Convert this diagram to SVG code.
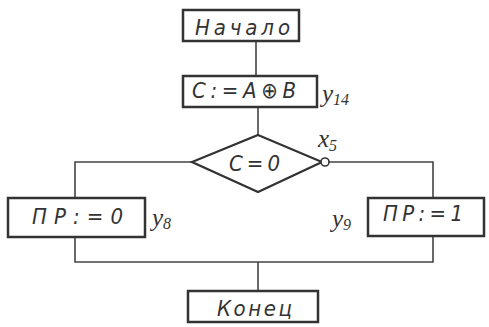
<svg xmlns="http://www.w3.org/2000/svg" width="489" height="327" viewBox="0 0 489 327">
<style>
.box{fill:#fff;stroke:#333;stroke-width:2.5}
.ln{fill:none;stroke:#444;stroke-width:1.6}
.t{font-family:"DejaVu Sans Condensed","DejaVu Sans","Liberation Sans",sans-serif;font-style:italic;font-size:22px;fill:#333}
.lab{font-family:"Liberation Serif","DejaVu Serif",serif;font-style:italic;font-size:25px;fill:#333}
.sub{font-size:16px}
</style>
<rect width="489" height="327" fill="#fff"/>
<g id="connectors">
<line class="ln" x1="256" y1="41" x2="256" y2="76"/>
<line class="ln" x1="258" y1="107" x2="258" y2="135"/>
<polyline class="ln" points="192,162 75,162 75,198"/>
<polyline class="ln" points="329,162 433,162 433,198"/>
<polyline class="ln" points="75,237 75,262 433,262 433,236"/>
<line class="ln" x1="258" y1="262" x2="258" y2="291"/>
</g>
<g id="start">
<rect class="box" x="183" y="10" width="116" height="31"/>
<text class="t" x="195" y="35" textLength="95" lengthAdjust="spacing">Начало</text>
</g>
<g id="assign">
<rect class="box" x="183" y="76" width="134" height="31"/>
<text class="t" x="192" y="98" textLength="104" lengthAdjust="spacing">C:=A⊕B</text>
<text class="lab" x="322" y="102">y<tspan class="sub" dy="3">14</tspan></text>
</g>
<g id="decision">
<polygon class="box" points="258,135 322,162 258,192 192,162" style="stroke-width:2.2"/>
<circle cx="325" cy="162" r="4" fill="#fff" stroke="#333" stroke-width="1.6"/>
<text class="t" x="229" y="171" textLength="51" lengthAdjust="spacing">C=0</text>
<text class="lab" x="318" y="147">x<tspan class="sub" dy="4">5</tspan></text>
</g>
<g id="pr0">
<rect class="box" x="8" y="198" width="137" height="39"/>
<text class="t" x="32" y="224" textLength="91" lengthAdjust="spacing">ПР:=0</text>
<text class="lab" x="152" y="226">y<tspan class="sub" dy="3">8</tspan></text>
</g>
<g id="pr1">
<rect class="box" x="368" y="198" width="116" height="38"/>
<text class="t" x="383" y="221" textLength="80" lengthAdjust="spacing">ПР:=1</text>
<text class="lab" x="332" y="227">y<tspan class="sub" dy="3">9</tspan></text>
</g>
<g id="end">
<rect class="box" x="188" y="291" width="130" height="31"/>
<text class="t" x="217" y="316" textLength="75" lengthAdjust="spacing">Конец</text>
</g>
</svg>
